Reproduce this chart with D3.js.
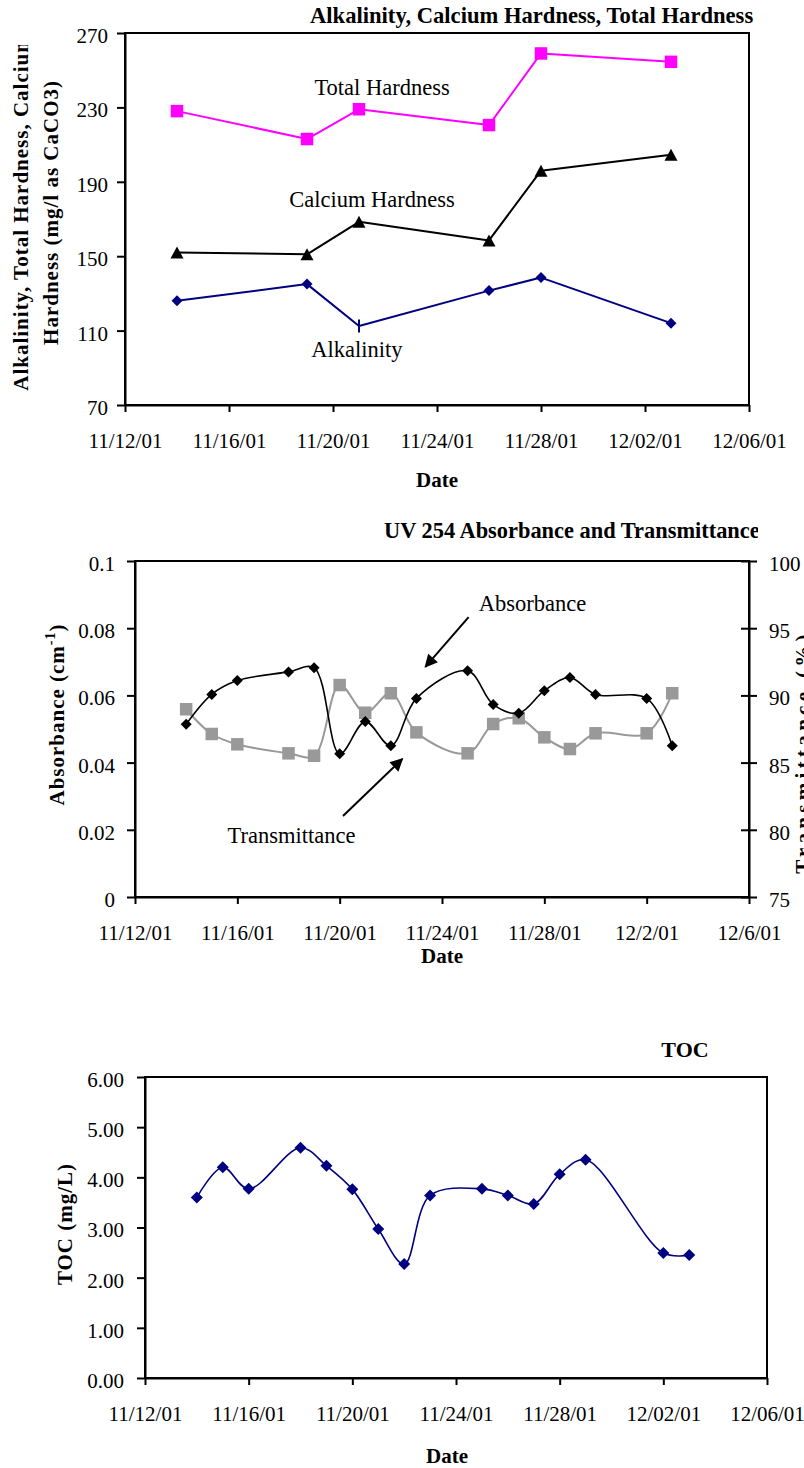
<!DOCTYPE html>
<html>
<head>
<meta charset="utf-8">
<script src="https://cdn.jsdelivr.net/npm/d3@7"></script>
<style>
  body { margin: 0; background: #fff; }
  svg { display: block; }
</style>
</head>
<body>
<svg id="c" width="804" height="1468"></svg>
<script>
// Calendar helper: 2001 dates, fractional days allowed
const dt = (m, d) => new Date(Date.UTC(2001, m - 1, 1) + (d - 1) * 864e5);

// ---- Shared date axis ----
const dateTicks = [dt(11, 12), dt(11, 16), dt(11, 20), dt(11, 24), dt(11, 28), dt(12, 2), dt(12, 6)];
const dateLabelsPadded = ["11/12/01", "11/16/01", "11/20/01", "11/24/01", "11/28/01", "12/02/01", "12/06/01"];
const dateLabelsShort = ["11/12/01", "11/16/01", "11/20/01", "11/24/01", "11/28/01", "12/2/01", "12/6/01"];

// ---- Alkalinity / hardness ----
const hardDates = [dt(11, 14), dt(11, 19), dt(11, 21), dt(11, 26), dt(11, 28), dt(12, 3)];
const totalHardness = [228, 213, 229, 220.5, 259, 254.5];
const calciumHardness = [152, 151, 168.5, 158.5, 196, 204.5];
const alkalinity = [126, 135, 112.5, 131.5, 138.5, 114];
const hardTicks = [70, 110, 150, 190, 230, 270];
const hardTickLabels = ["70", "110", "150", "190", "230", "270"];

// ---- UV 254 ----
const uvDates = [dt(11, 14), dt(11, 15), dt(11, 16), dt(11, 18), dt(11, 19), dt(11, 20), dt(11, 21), dt(11, 22),
  dt(11, 23), dt(11, 25), dt(11, 26), dt(11, 27), dt(11, 28), dt(11, 29), dt(11, 30), dt(12, 2), dt(12, 3)];
const absorbance = [0.0514, 0.0603, 0.0644, 0.0670, 0.0682, 0.0426, 0.0522, 0.0450,
  0.0591, 0.0673, 0.0573, 0.0547, 0.0614, 0.0653, 0.0603, 0.0591, 0.0450];
const transmittance = [88.97, 87.13, 86.36, 85.69, 85.51, 90.77, 88.71, 90.16,
  87.25, 85.69, 87.87, 88.30, 86.88, 86.01, 87.18, 87.18, 90.16];
const absTicks = [0, 0.02, 0.04, 0.06, 0.08, 0.1];
const absTickLabels = ["0", "0.02", "0.04", "0.06", "0.08", "0.1"];
const transTicks = [75, 80, 85, 90, 95, 100];
const transTickLabels = ["75", "80", "85", "90", "95", "100"];

// ---- TOC ----
const tocDates = [dt(11, 14), dt(11, 15), dt(11, 16), dt(11, 18), dt(11, 19), dt(11, 20), dt(11, 21), dt(11, 22),
  dt(11, 23), dt(11, 25), dt(11, 26), dt(11, 27), dt(11, 28), dt(11, 29), dt(12, 2), dt(12, 3)];
const toc = [3.60, 4.20, 3.77, 4.59, 4.23, 3.76, 2.97, 2.27, 3.64, 3.77, 3.64, 3.47, 4.06, 4.35, 2.49, 2.45];
const tocTicks = [0, 1, 2, 3, 4, 5, 6];
const tocTickLabels = ["0.00", "1.00", "2.00", "3.00", "4.00", "5.00", "6.00"];

// ---------------------------------------------------------------
const FONT = '"Liberation Serif","Times New Roman",Times,serif';
const svg = d3.select("#c");
const defs = svg.append("defs");
defs.append("marker").attr("id", "head")
  .attr("viewBox", "0 0 10 10").attr("refX", 9).attr("refY", 5)
  .attr("markerWidth", 7.5).attr("markerHeight", 6.5).attr("markerUnits", "strokeWidth")
  .attr("orient", "auto")
  .append("path").attr("d", "M0,0L10,5L0,10Z").attr("fill", "#000");
defs.append("clipPath").attr("id", "titleClip")
  .append("rect").attr("x", 0).attr("y", 0).attr("width", 758).attr("height", 1468);
defs.append("clipPath").attr("id", "ylabClip")
  .append("rect").attr("x", 0).attr("y", 45).attr("width", 120).attr("height", 400);

const shapes = {
  square: s => `M${-s / 2},${-s / 2}h${s}v${s}h${-s}Z`,
  diamond: (w, h) => `M0,${-h / 2}L${w / 2},0L0,${h / 2}L${-w / 2},0Z`,
  triangle: (w, h) => `M0,${-h / 2}L${w / 2},${h / 2}L${-w / 2},${h / 2}Z`
};

function styleAxis(g) {
  g.attr("font-family", FONT).attr("font-size", 21);
  g.select(".domain").attr("stroke", "#000").attr("stroke-width", 2);
  g.selectAll(".tick line").attr("stroke", "#000").attr("stroke-width", 2);
  g.selectAll(".tick text").attr("fill", "#000");
}

function frame(box) {
  svg.append("rect")
    .attr("x", box.left).attr("y", box.top)
    .attr("width", box.right - box.left).attr("height", box.bottom - box.top)
    .attr("fill", "none").attr("stroke", "#000").attr("stroke-width", 2);
}

function dateAxis(box, x, labels) {
  const g = svg.append("g").attr("transform", `translate(0,${box.bottom})`)
    .call(d3.axisBottom(x).tickValues(dateTicks).tickFormat((d, i) => labels[i])
      .tickSizeInner(7).tickSizeOuter(0));
  styleAxis(g);
  g.selectAll(".tick text").attr("y", 43).attr("dy", null);
}

function leftAxis(box, y, ticks, labels, pad) {
  const g = svg.append("g").attr("transform", `translate(${box.left},0)`)
    .call(d3.axisLeft(y).tickValues(ticks).tickFormat((d, i) => labels[i])
      .tickSizeInner(8).tickSizeOuter(0));
  styleAxis(g);
  g.selectAll(".tick text").attr("x", -pad).attr("dy", "0.45em");
}

function title(txt, x, y, size, anchor) {
  svg.append("text").attr("x", x).attr("y", y).attr("text-anchor", anchor || "start")
    .attr("clip-path", "url(#titleClip)")
    .attr("font-family", FONT).attr("font-size", size).attr("font-weight", "bold")
    .text(txt);
}

function xLabel(txt, x, y) {
  svg.append("text").attr("x", x).attr("y", y).attr("text-anchor", "middle")
    .attr("font-family", FONT).attr("font-size", 21).attr("font-weight", "bold")
    .text(txt);
}

function yLabel(x, yc, spacing) {
  return svg.append("text")
    .attr("transform", `translate(${x},${yc}) rotate(-90)`)
    .attr("text-anchor", "middle")
    .attr("font-family", FONT).attr("font-size", 21).attr("font-weight", "bold")
    .attr("letter-spacing", spacing);
}

function note(txt, px, py) {
  svg.append("text").attr("x", px).attr("y", py).attr("text-anchor", "middle")
    .attr("font-family", FONT).attr("font-size", 22.5).text(txt);
}

function series(xs, ys, x, y, color, width, curve) {
  const pts = xs.map((d, i) => [d, ys[i]]);
  const line = d3.line().x(d => x(d[0])).y(d => y(d[1]));
  if (curve) line.curve(curve);
  svg.append("path").datum(pts).attr("d", line)
    .attr("fill", "none").attr("stroke", color).attr("stroke-width", width)
    .attr("stroke-linejoin", "round");
  return pts;
}

function markers(pts, x, y, path, color) {
  svg.append("g").selectAll("path").data(pts).join("path")
    .attr("transform", d => `translate(${x(d[0])},${y(d[1])})`)
    .attr("d", path).attr("fill", color);
}

// ================= Chart 1: Alkalinity, Calcium Hardness, Total Hardness =================
{
  const box = { left: 125, top: 33, right: 749, bottom: 405 };
  const x = d3.scaleUtc().domain([dateTicks[0], dateTicks[dateTicks.length - 1]]).range([box.left, box.right]);
  const y = d3.scaleLinear().domain([70, 270]).range([box.bottom, box.top]);

  frame(box);

  const th = series(hardDates, totalHardness, x, y, "#FF00FF", 2);
  markers(th, x, y, shapes.square(12.5), "#FF00FF");

  const ch = series(hardDates, calciumHardness, x, y, "#000", 2);
  markers(ch, x, y, shapes.triangle(13, 12), "#000");

  const al = series(hardDates, alkalinity, x, y, "#000080", 2);
  // third sample carries a dash-style marker
  markers(al.filter((d, i) => i !== 2), x, y, shapes.diamond(11, 11), "#000080");
  svg.append("line")
    .attr("x1", x(al[2][0])).attr("x2", x(al[2][0]))
    .attr("y1", y(al[2][1]) - 6.5).attr("y2", y(al[2][1]) + 6.5)
    .attr("stroke", "#000080").attr("stroke-width", 2);

  note("Total Hardness", x(dt(11, 21.885)), y(236.7));
  note("Calcium Hardness", x(dt(11, 21.5)), y(176.5));
  note("Alkalinity", x(dt(11, 20.92)), y(95.8));

  dateAxis(box, x, dateLabelsPadded);
  leftAxis(box, y, hardTicks, hardTickLabels, 17);

  title("Alkalinity, Calcium Hardness, Total Hardness", 310, 23, 22.6);
  xLabel("Date", 437, 487);

  const g = svg.append("g").attr("clip-path", "url(#ylabClip)");
  g.append("text").attr("transform", "translate(28,212.5) rotate(-90)")
    .attr("text-anchor", "middle").attr("font-family", FONT).attr("font-size", 21)
    .attr("font-weight", "bold").attr("letter-spacing", 1)
    .text("Alkalinity, Total Hardness, Calcium");
  yLabel(58, 212.5, 1).text("Hardness (mg/l as CaCO3)");
}

// ================= Chart 2: UV 254 Absorbance and Transmittance =================
{
  const box = { left: 135, top: 561, right: 749, bottom: 897 };
  const x = d3.scaleUtc().domain([dateTicks[0], dateTicks[dateTicks.length - 1]]).range([box.left, box.right]);
  const y = d3.scaleLinear().domain([0, 0.1]).range([box.bottom, box.top]);
  const yR = d3.scaleLinear().domain([75, 100]).range([box.bottom, box.top]);
  const smooth = d3.curveCatmullRom.alpha(0.5);

  frame(box);

  const tr = series(uvDates, transmittance, x, yR, "#999999", 2, smooth);
  markers(tr, x, yR, shapes.square(12.5), "#999999");

  const ab = series(uvDates, absorbance, x, y, "#000", 1.6, smooth);
  markers(ab, x, y, shapes.diamond(11, 11), "#000");

  // callouts
  note("Absorbance", x(dt(11, 27.54)), y(0.0851));
  svg.append("line")
    .attr("x1", x(dt(11, 25.04))).attr("y1", y(0.0833))
    .attr("x2", x(dt(11, 23.35))).attr("y2", y(0.0685))
    .attr("stroke", "#000").attr("stroke-width", 2).attr("marker-end", "url(#head)");
  note("Transmittance", x(dt(11, 18.12)), y(0.0161));
  svg.append("line")
    .attr("x1", x(dt(11, 20.13))).attr("y1", y(0.0241))
    .attr("x2", x(dt(11, 22.45))).attr("y2", y(0.0411))
    .attr("stroke", "#000").attr("stroke-width", 2).attr("marker-end", "url(#head)");

  dateAxis(box, x, dateLabelsShort);
  leftAxis(box, y, absTicks, absTickLabels, 20);

  const gr = svg.append("g").attr("transform", `translate(${box.right},0)`)
    .call(d3.axisRight(yR).tickValues(transTicks).tickFormat((d, i) => transTickLabels[i])
      .tickSizeInner(8).tickSizeOuter(0));
  styleAxis(gr);
  gr.selectAll(".tick line").attr("x1", -8);
  gr.selectAll(".tick text").attr("x", 20).attr("dy", "0.45em");

  title("UV 254 Absorbance and Transmittance", 384, 538, 22.4);
  xLabel("Date", 442, 963);

  const lab = yLabel(64, 714.5, 1);
  lab.append("tspan").text("Absorbance (cm");
  lab.append("tspan").attr("font-size", 14).attr("dy", -9).text("-1");
  lab.append("tspan").attr("dy", 9).text(")");

  yLabel(810, 752, 4.3).text("Transmittance (%)");
}

// ================= Chart 3: TOC =================
{
  const box = { left: 145, top: 1077, right: 767, bottom: 1378 };
  const x = d3.scaleUtc().domain([dateTicks[0], dateTicks[dateTicks.length - 1]]).range([box.left, box.right]);
  const y = d3.scaleLinear().domain([0, 6]).range([box.bottom, box.top]);

  frame(box);

  const tc = series(tocDates, toc, x, y, "#000080", 1.6, d3.curveCatmullRom.alpha(0.5));
  markers(tc, x, y, shapes.diamond(12, 12), "#000080");

  dateAxis(box, x, dateLabelsPadded);
  leftAxis(box, y, tocTicks, tocTickLabels, 21);

  title("TOC", 685, 1057, 22, "middle");
  xLabel("Date", 447, 1463);
  yLabel(72, 1224, 1).text("TOC (mg/L)");
}
</script>
</body>
</html>
